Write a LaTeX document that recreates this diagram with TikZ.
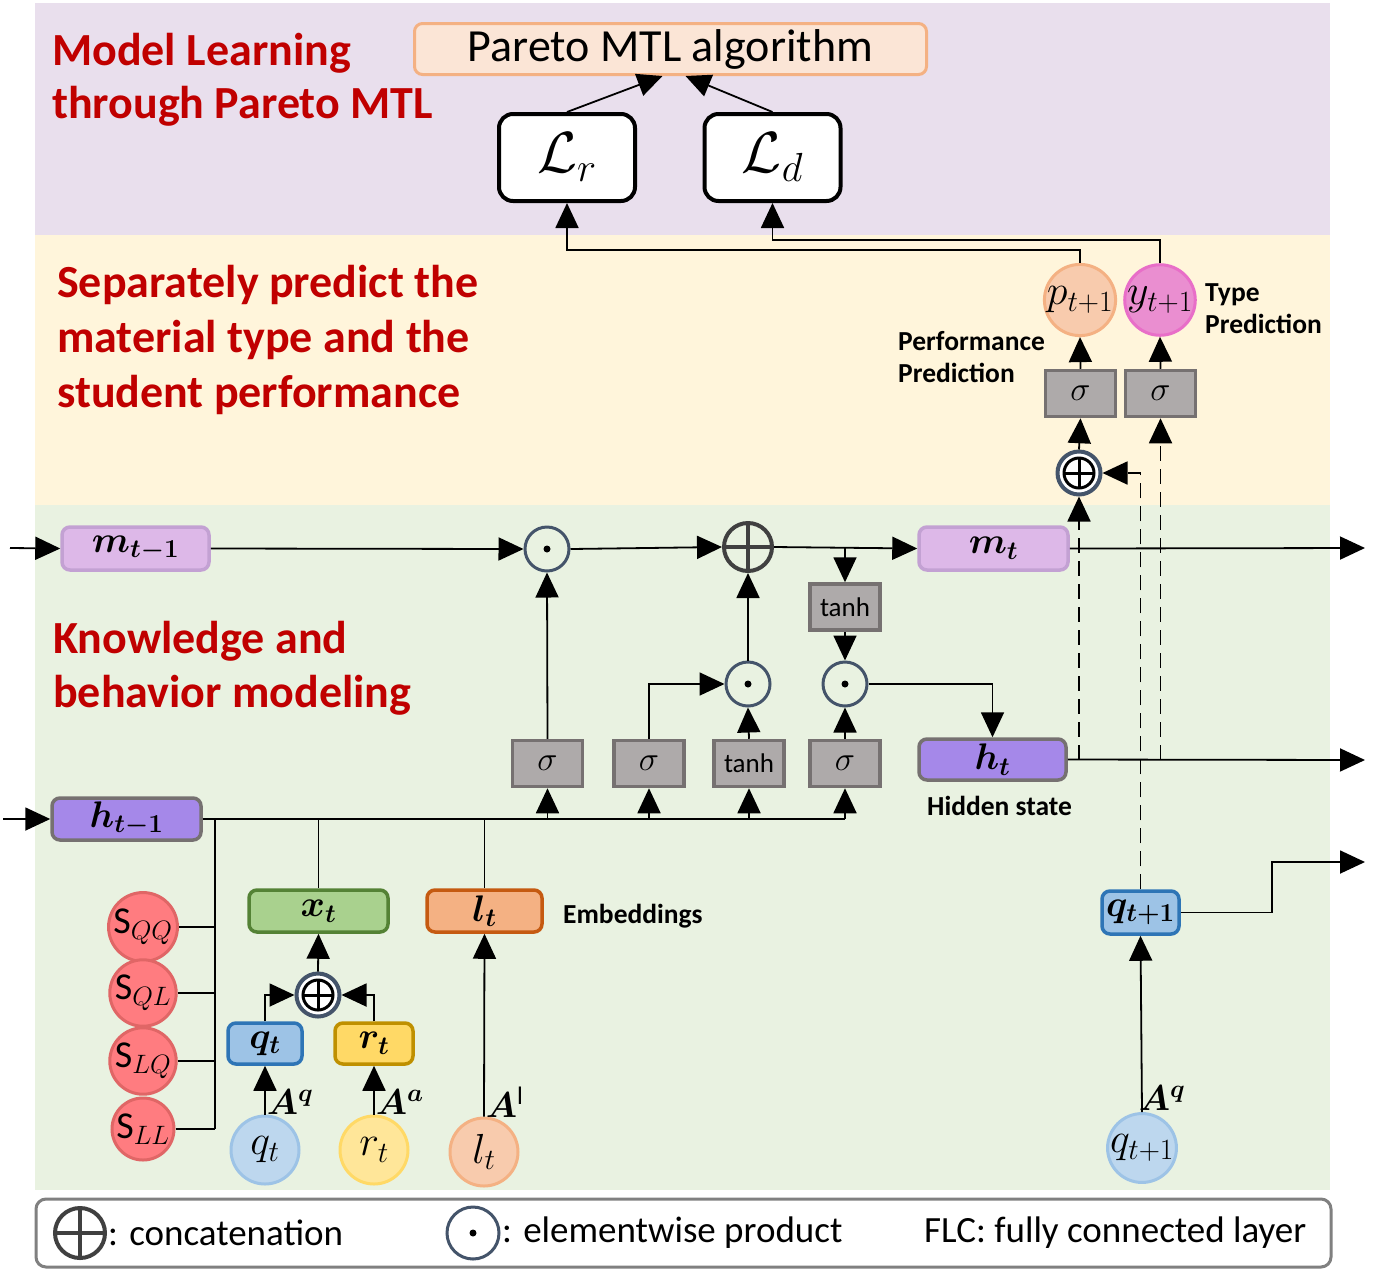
\RequirePackage{fix-cm}
\documentclass[tikz,border=0pt]{standalone}
\usepackage{amsmath,bm}
\usepackage{fontspec}
\setmainfont{Carlito}
\usetikzlibrary{arrows.meta,calc}
\definecolor{bgpurple}{HTML}{E9DFED}
\definecolor{bgyellow}{HTML}{FFF5DB}
\definecolor{bggreen}{HTML}{E9F2E1}
\definecolor{darkred}{HTML}{C00000}
\definecolor{gfill}{HTML}{AEAAAA}
\definecolor{gborder}{HTML}{767171}
\definecolor{mfill}{HTML}{DDB8E8}
\definecolor{mborder}{HTML}{C3A1D3}
\definecolor{hfill}{HTML}{A588E9}
\definecolor{slate}{HTML}{44546A}
\definecolor{parfill}{HTML}{FBE5D6}
\definecolor{parborder}{HTML}{F4B183}
\definecolor{pfill}{HTML}{F8CBAD}
\definecolor{yfill}{HTML}{EA8ED0}
\definecolor{yborder}{HTML}{E86EC8}
\definecolor{bbfill}{HTML}{9DC3E6}
\definecolor{bbborder}{HTML}{2E75B6}
\definecolor{bcfill}{HTML}{BDD7EE}
\definecolor{ybfill}{HTML}{FFD966}
\definecolor{ybborder}{HTML}{BF9000}
\definecolor{ycfill}{HTML}{FFE699}
\definecolor{xtfill}{HTML}{A9D18E}
\definecolor{xtborder}{HTML}{548235}
\definecolor{ltfill}{HTML}{F4B183}
\definecolor{ltborder}{HTML}{C55A11}
\definecolor{sfill}{HTML}{FF7C80}
\definecolor{sborder}{HTML}{E06666}
\definecolor{plusgray}{HTML}{404040}
\tikzset{
  conn/.style={line width=1.8pt,-{Triangle[length=25pt,width=23pt]}},
  plainline/.style={line width=1.8pt},
  dconn/.style={conn,dash pattern=on 15pt off 8pt},
  ttl/.style={anchor=base west,inner sep=0,text=darkred,font=\fontsize{46}{52}\selectfont\bfseries},
  note/.style={anchor=base west,inner sep=0,font=\fontsize{27.5}{32}\selectfont\bfseries,align=left},
  gatebox/.style={draw=gborder,fill=gfill,line width=3.5pt,minimum width=70pt,minimum height=46pt,inner sep=0,font=\fontsize{27}{30}\selectfont},
  sig/.style={gatebox,font=\fontsize{34}{36}\selectfont},
  vbox/.style={rounded corners=8pt,line width=3.5pt,inner sep=0,font=\fontsize{37}{40}\selectfont},
  vcirc/.style={circle,line width=3pt,inner sep=0,minimum size=68pt,font=\fontsize{42}{44}\selectfont},
  lossbox/.style={draw=black,fill=white,line width=4pt,rounded corners=14pt,minimum width=136pt,minimum height=87pt,inner sep=0,font=\fontsize{58}{60}\selectfont},
  dotop/.style={circle,draw=slate,line width=3pt,inner sep=0,minimum size=44pt,
     path picture={\fill (path picture bounding box.center) circle (3.5pt);}},
  bigplus/.style={circle,draw=plusgray,line width=4pt,inner sep=0,minimum size=48pt,
     path picture={\draw[line width=4pt,plusgray] (path picture bounding box.north) -- (path picture bounding box.south) (path picture bounding box.west) -- (path picture bounding box.east);}},
  smallplus/.style={circle,draw=slate,fill=white,line width=4pt,inner sep=0,minimum size=43pt,
     path picture={\draw[line width=3pt,black] (path picture bounding box.center) circle (15pt);
       \draw[line width=3pt,black] ([yshift=15pt]path picture bounding box.center) -- ([yshift=-15pt]path picture bounding box.center)
         ([xshift=-15pt]path picture bounding box.center) -- ([xshift=15pt]path picture bounding box.center);}},
  albl/.style={inner sep=1pt,font=\fontsize{36}{38}\selectfont},
  scirc/.style={circle,draw=sborder,fill=sfill,line width=3pt,minimum size=62pt,inner sep=0,font=\fontsize{38}{40}\selectfont},
  legtxt/.style={anchor=west,inner sep=0,font=\fontsize{37}{40}\selectfont},
}
\begin{document}
\begin{tikzpicture}[x=1pt,y=-1pt]
\fill[white] (0,0) rectangle (1397,1278);
\useasboundingbox (0,0) rectangle (1397,1278);
\fill[bgpurple] (35,3) rectangle (1330,235);
\fill[bgyellow] (35,235) rectangle (1330,505);
\fill[bggreen] (35,505) rectangle (1330,1190);

% titles
\node[ttl] (t1a) at (52,65) {Model Learning};
\node[ttl] (t1b) at (52,118) {through Pareto MTL};
\node[ttl] (t2a) at (57,297) {Separately predict the};
\node[ttl] (t2b) at (57,352) {material type and the};
\node[ttl] (t2c) at (57,407) {student performance};
\node[ttl] (t3a) at (53,653) {Knowledge and};
\node[ttl] (t3b) at (53,707) {behavior modeling};

% top
\node[draw=parborder,fill=parfill,line width=3pt,rounded corners=8pt,minimum width=512pt,minimum height=51pt,inner sep=0,font=\fontsize{46}{48}\selectfont] (par) at (670.5,49) {Pareto MTL algorithm};
\node[lossbox] (Lr) at (567,157.5) {$\mathcal{L}_r$};
\node[lossbox] (Ld) at (772.5,157.5) {$\mathcal{L}_d$};
\draw[conn] (Lr.north) -- ([xshift=-8pt]par.south);
\draw[conn] (Ld.north) -- ([xshift=15pt]par.south);

% prediction
\node[vcirc,draw=parborder,fill=pfill,minimum size=66pt] (p) at (1080,300) {$p_{t+1}$};
\node[vcirc,draw=yborder,fill=yfill,minimum size=66pt] (y) at (1160,300) {$y_{t+1}$};
\node[note] (tp) at (1205,333) {Type\\Prediction};
\node[note] (pp) at (898,382) {Performance\\Prediction};
\node[sig] (s1) at (1080.5,393.5) {$\sigma$};
\node[sig] (s2) at (1160.5,393.5) {$\sigma$};
\node[smallplus] (cc) at (1079,473) {};
\draw[conn] (s1.north) -- (p.south);
\draw[conn] (s2.north) -- (y.south);
\draw[conn] (cc.north) -- (s1.south);
\draw[conn] (p.north) -- (p.north |- 0,250) -| (Lr.south);
\draw[conn] (y.north) -- (y.north |- 0,240) -| (Ld.south);

% memory line
\node[vbox,draw=mborder,fill=mfill,minimum width=147pt,minimum height=43pt] (mprev) at (135.5,548.5) {$\bm{m_{t-1}}$};
\node[vbox,draw=mborder,fill=mfill,minimum width=149pt,minimum height=43pt] (mt) at (993.5,548.5) {$\bm{m_t}$};
\node[dotop] (d1) at (547,549) {};
\node[bigplus] (pb) at (748,547) {};
\node[gatebox] (th2) at (845,607) {tanh};
\node[dotop] (d2) at (748,684) {};
\node[dotop] (d3) at (845,684) {};
\node[vbox,draw=gborder,fill=hfill,minimum width=147pt,minimum height=41pt] (ht) at (992.5,759.5) {$\bm{h_t}$};
\node[note] (hs) at (927,815) {Hidden state};
\coordinate (min) at (10,548);
\coordinate (mout) at (1365,548);
\coordinate (hout) at (1365,760);
\draw[conn] (min) -- (mprev.west);
\draw[conn] (mprev.east) -- (d1.west);
\draw[conn] (d1.east) -- (pb.west);
\draw[conn] (pb.east) -- (mt.west);
\draw[conn] (th2.north |- pb.east) -- (th2.north);
\draw[conn] (mt.east) -- (mout);
\draw[conn] (th2.south) -- (d3.north);
\draw[conn] (d2.north) -- (pb.south);
\draw[conn] (d3.east) -| (ht.north);
\draw[conn] (ht.east) -- (hout);

% gates
\node[sig] (g1) at (547.5,763.5) {$\sigma$};
\node[sig] (g2) at (649,763.5) {$\sigma$};
\node[gatebox] (g3) at (749,763.5) {tanh};
\node[sig] (g4) at (845,763.5) {$\sigma$};
\draw[conn] (g1.north) -- (d1.south);
\draw[conn] (g2.north) |- (d2.west);
\draw[conn] (g3.north) -- (d2.south);
\draw[conn] (g4.north) -- (d3.south);

\node[vbox,draw=gborder,fill=hfill,minimum width=149pt,minimum height=42pt] (hprev) at (126.5,819) {$\bm{h_{t-1}}$};
\coordinate (hin) at (3,819);
\draw[conn] (hin) -- (hprev.west);
\draw[plainline] (hprev.east) -- (hprev.east -| g4.south);
\draw[conn] (g1.south |- hprev.east) -- (g1.south);
\draw[conn] (g2.south |- hprev.east) -- (g2.south);
\draw[conn] (g3.south |- hprev.east) -- (g3.south);
\draw[conn] (g4.south |- hprev.east) -- (g4.south);

% dashed links
\node[vbox,draw=bbborder,fill=bbfill,minimum width=77pt,minimum height=43pt] (qn) at (1140.5,912.5) {$\bm{q_{t+1}}$};
\draw[dconn] (ht.east -| cc.south) -- (cc.south);
\draw[dconn] (ht.east -| s2.south) -- (s2.south);
\draw[dconn] (qn.north) -- (qn.north |- cc.east) -- (cc.east);

% embeddings
\coordinate (bus) at (215,1129);
\node[scirc] (sqq) at (143,927) {$\mathrm{S}_{QQ}$};
\node[scirc] (sql) at (143,993) {$\mathrm{S}_{QL}$};
\node[scirc] (slq) at (143,1061) {$\mathrm{S}_{LQ}$};
\node[scirc] (sll) at (143,1129) {$\mathrm{S}_{LL}$};
\draw[plainline] (hprev.east -| bus) -- (bus);
\draw[plainline] (sqq.east) -- (sqq.east -| bus);
\draw[plainline] (sql.east) -- (sql.east -| bus);
\draw[plainline] (slq.east) -- (slq.east -| bus);
\draw[plainline] (sll.east) -- (bus);

\node[vbox,draw=xtborder,fill=xtfill,minimum width=139pt,minimum height=42pt] (xt) at (318.5,911) {$\bm{x_t}$};
\node[vbox,draw=ltborder,fill=ltfill,minimum width=115pt,minimum height=42pt] (ltb) at (484.5,911) {$\bm{l_t}$};
\node[note] (emb) at (563,923) {Embeddings};
\draw[plainline] (hprev.east -| xt.north) -- (xt.north);
\draw[plainline] (hprev.east -| ltb.north) -- (ltb.north);

\node[smallplus] (cs) at (318,995) {};
\node[vbox,draw=bbborder,fill=bbfill,minimum width=74pt,minimum height=41pt] (qtb) at (265,1043.5) {$\bm{q_t}$};
\node[vbox,draw=ybborder,fill=ybfill,minimum width=78pt,minimum height=41pt] (rtb) at (374,1043.5) {$\bm{r_t}$};
\draw[conn] (cs.north) -- (xt.south);
\draw[conn] (qtb.north) |- (cs.west);
\draw[conn] (rtb.north) |- (cs.east);

\node[vcirc,draw=bbfill,fill=bcfill] (qc) at (265,1150) {$q_t$};
\node[vcirc,draw=ybfill,fill=ycfill] (rc) at (374,1150) {$r_t$};
\node[vcirc,draw=ltfill,fill=pfill] (lc) at (484,1152) {$l_t$};
\node[vcirc,draw=bbfill,fill=bcfill,minimum size=66pt] (qnc) at (1142,1148) {$q_{t+1}$};
\draw[conn] (qc.north) -- node[albl,pos=0.25,anchor=west] (aq) {$\bm{A}^{\bm{q}}$} (qtb.south);
\draw[conn] (rc.north) -- node[albl,pos=0.25,anchor=west] (aa) {$\bm{A}^{\bm{a}}$} (rtb.south);
\draw[conn] (lc.north) -- node[albl,pos=0.08,anchor=west] (al) {$\bm{A}^{\mathrm{l}}$} (ltb.south);
\draw[conn] (qnc.north) -- node[albl,pos=0.08,anchor=west,xshift=-5pt] (aqn) {$\bm{A}^{\bm{q}}$} (qn.south);
\coordinate (qbend) at (1272,862);
\coordinate (qout) at (1365,862);
\draw[conn] (qn.east) -| (qbend) -- (qout);

% legend
\node[draw=gray,fill=white,line width=3pt,rounded corners=10pt,minimum width=1295pt,minimum height=68pt,inner sep=0] (leg) at (683.5,1233) {};
\node[bigplus,draw=plusgray,minimum size=50pt] (lplus) at (80,1233) {};
\node[legtxt] (lt1) at (108,1233) {: concatenation};
\node[dotop,minimum size=52pt] (ldot) at (473,1233) {};
\node[legtxt] (lt2) at (502,1233) {: elementwise product};
\node[legtxt] (lt3) at (924,1233) {FLC: fully connected layer};
\end{tikzpicture}
\end{document}
